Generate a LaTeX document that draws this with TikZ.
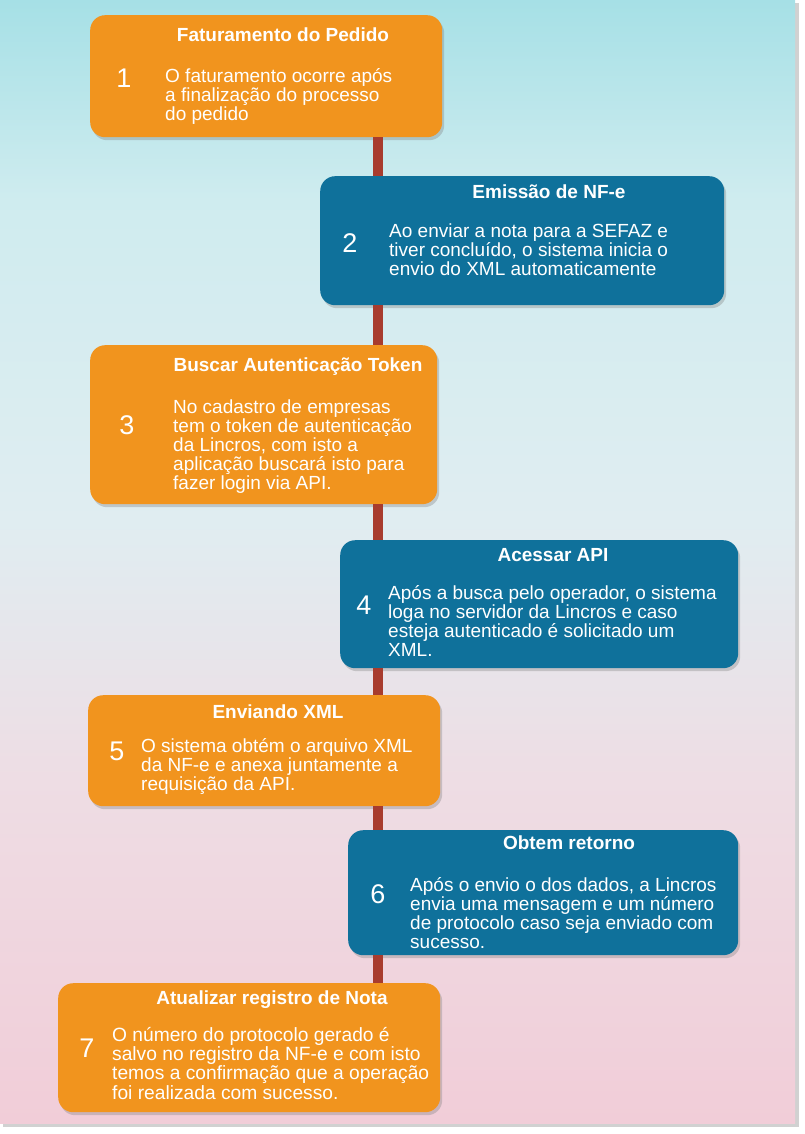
\documentclass[tikz,border=0pt]{standalone}
\usepackage{fontspec}
\setmainfont{Liberation Sans}
\usetikzlibrary{shadows}
\definecolor{stepOrange}{HTML}{F1941E}
\definecolor{stepBlue}{HTML}{0F719B}
\definecolor{spine}{HTML}{A83C2E}
\definecolor{skyTop}{HTML}{A6E0E6}
\definecolor{skyHigh}{HTML}{CFECEF}
\definecolor{skyMid}{HTML}{E0EDF1}
\definecolor{skyLow}{HTML}{EEDDE4}
\definecolor{skyPink}{HTML}{F1CDD8}
\begin{document}
\begin{tikzpicture}[x=1pt,y=-1pt,
  card/.style={fill=#1,rounded corners=15pt,anchor=north west,inner sep=0pt,
    drop shadow={shadow xshift=2pt,shadow yshift=-3pt,opacity=.35}},
  heading/.style={text=white,font=\fontsize{19}{19}\selectfont\bfseries,inner sep=0pt,anchor=base},
  number/.style={text=white,font=\fontsize{27}{27}\selectfont,inner sep=0pt,anchor=base},
  body/.style={text=white,font=\fontsize{19}{19}\selectfont,align=left,inner sep=0pt,anchor=base west}]
\useasboundingbox (0,0) rectangle (805,1134);
% page and sky
\fill[black!18] (3,3) rectangle (799,1127);
\shade[top color=skyTop,bottom color=skyHigh] (0,0) rectangle (795,200);
\shade[top color=skyHigh,bottom color=skyMid] (0,200) rectangle (795,520);
\shade[top color=skyMid,bottom color=skyLow] (0,520) rectangle (795,780);
\shade[top color=skyLow,bottom color=skyPink] (0,780) rectangle (795,1123);
% cards
\node[card=stepOrange,minimum width=352pt,minimum height=122pt] (card1) at (90,15) {};
\node[card=stepBlue,minimum width=404pt,minimum height=129pt] (card2) at (320,176) {};
\node[card=stepOrange,minimum width=347pt,minimum height=159pt] (card3) at (90,345) {};
\node[card=stepBlue,minimum width=398pt,minimum height=128pt] (card4) at (340,540) {};
\node[card=stepOrange,minimum width=352pt,minimum height=111pt] (card5) at (88,695) {};
\node[card=stepBlue,minimum width=390pt,minimum height=125pt] (card6) at (348,830) {};
\node[card=stepOrange,minimum width=382pt,minimum height=129pt] (card7) at (58,983) {};
% spine between the cards
\coordinate (axis) at (378,0);
\draw[spine,line width=10pt] (card1.south -| axis) -- (card2.north -| axis);
\draw[spine,line width=10pt] (card2.south -| axis) -- (card3.north -| axis);
\draw[spine,line width=10pt] (card3.south -| axis) -- (card4.north -| axis);
\draw[spine,line width=10pt] (card4.south -| axis) -- (card5.north -| axis);
\draw[spine,line width=10pt] (card5.south -| axis) -- (card6.north -| axis);
\draw[spine,line width=10pt] (card6.south -| axis) -- (card7.north -| axis);
% step 1 (body placed at its last baseline)
\node[heading] (title1) at (283,41.5) {Faturamento do Pedido};
\node[number] (num1) at (124,87.5) {1};
\node[body] (text1) at (165,121) {O faturamento ocorre após\\a finalização do processo\\do pedido};
% step 2
\node[heading] (title2) at (549,198) {Emissão de NF-e};
\node[number] (num2) at (350,252) {2};
\node[body] (text2) at (389,275) {Ao enviar a nota para a SEFAZ e\\tiver concluído, o sistema inicia o\\envio do XML automaticamente};
% step 3
\node[heading] (title3) at (298,371.5) {Buscar Autenticação Token};
\node[number] (num3) at (127,434) {3};
\node[body] (text3) at (173,489) {No cadastro de empresas\\tem o token de autenticação\\da Lincros, com isto a\\aplicação buscará isto para\\fazer login via API.};
% step 4
\node[heading] (title4) at (553,561.5) {Acessar API};
\node[number] (num4) at (364,614) {4};
\node[body] (text4) at (388,656) {Após a busca pelo operador, o sistema\\loga no servidor da Lincros e caso\\esteja autenticado é solicitado um\\XML.};
% step 5
\node[heading] (title5) at (278,718) {Enviando XML};
\node[number] (num5) at (117,760) {5};
\node[body] (text5) at (141,790) {O sistema obtém o arquivo XML\\da NF-e e anexa juntamente a\\requisição da API.};
% step 6
\node[heading] (title6) at (569,849.5) {Obtem retorno};
\node[number] (num6) at (378,903) {6};
\node[body] (text6) at (410,948) {Após o envio o dos dados, a Lincros\\envia uma mensagem e um número\\de protocolo caso seja enviado com\\sucesso.};
% step 7
\node[heading] (title7) at (272,1004.5) {Atualizar registro de Nota};
\node[number] (num7) at (87,1057) {7};
\node[body,font=\fontsize{19.2}{19.3}\selectfont] (text7) at (112,1099) {O número do protocolo gerado é\\salvo no registro da NF-e e com isto\\temos a confirmação que a operação\\foi realizada com sucesso.};
\end{tikzpicture}
\end{document}
